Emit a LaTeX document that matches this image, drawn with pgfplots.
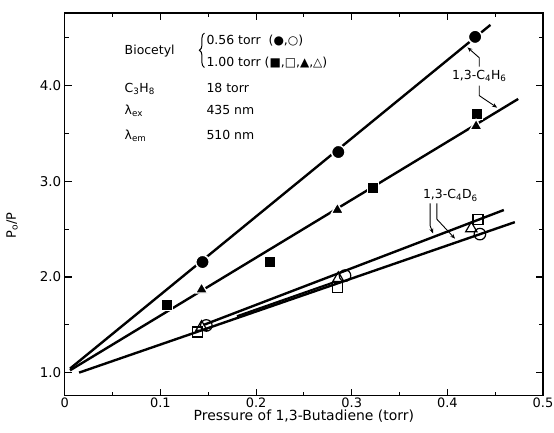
\documentclass[border=0pt]{standalone}
\usepackage{fontspec}
\setmainfont{DejaVu Sans}
\newfontfamily\sym{DejaVu Sans}
\usepackage{pgfplots}
\pgfplotsset{compat=1.18}
\usetikzlibrary{arrows.meta,decorations.pathreplacing}

\begin{document}
\begin{tikzpicture}
\begin{axis}[
    scale only axis,
    width=480pt, height=384pt,
    xmin=0, xmax=0.5,
    ymin=0.76, ymax=4.76,
    axis line style={line width=1.3pt},
    tick style={line width=1.1pt, black},
    tick align=inside,
    major tick length=7pt,
    minor tick length=4pt,
    xtick={0,0.1,0.2,0.3,0.4,0.5},
    xticklabels={0,0.1,0.2,0.3,0.4,0.5},
    minor xtick={0.05,0.15,0.25,0.35,0.45},
    ytick={1,2,3,4},
    minor ytick={1.5,2.5,3.5,4.5},
    yticklabel style={font=\fontsize{13.5}{15}\selectfont,
      /pgf/number format/.cd, fixed, fixed zerofill, precision=1},
    /pgf/number format/assume math mode=true,
    xticklabel style={font=\fontsize{13}{15}\selectfont, yshift=1pt},
    xlabel={Pressure of 1,3-Butadiene (torr)},
    xlabel style={font=\fontsize{14}{16}\selectfont, yshift=5pt},
    ylabel={P\textsubscript{o}/P},
    ylabel style={font=\fontsize{13}{15}\selectfont, anchor=center, at={(axis description cs:-0.11,0.445)}},
    clip=false,
]
% fitted lines
\addplot[line width=2.4pt] coordinates {(0.0055,1.042) (0.445,4.635)};
\addplot[line width=2.4pt] coordinates {(0.0055,1.024) (0.474,3.861)};
\addplot[line width=2.4pt] coordinates {(0.015,1.00) (0.4705,2.573)};
\addplot[line width=2.4pt] coordinates {(0.145,1.498) (0.459,2.70)};
\addplot[line width=2.0pt] coordinates {(0.18,1.59) (0.28,1.94)};

% 1.00 torr, filled squares
\addplot[only marks, mark=square*, mark size=5.6pt,
  mark options={fill=black, draw=white, line width=1.2pt}] coordinates {
  (0.107,1.708) (0.215,2.153) (0.322,2.934) (0.431,3.708)};
% 1.00 torr, filled triangles
\addplot[only marks, mark=triangle*, mark size=7pt,
  mark options={fill=black, draw=white, line width=1.2pt}] coordinates {
  (0.143,1.868) (0.285,2.70) (0.430,3.576)};
% 0.56 torr, filled circles
\addplot[only marks, mark=*, mark size=6.8pt,
  mark options={fill=black, draw=white, line width=1.5pt}] coordinates {
  (0.144,2.156) (0.286,3.306) (0.429,4.51)};
% open squares
\addplot[only marks, mark=square, mark size=5pt,
  mark options={fill=white, draw=black, line width=1.2pt}] coordinates {
  (0.139,1.424) (0.285,1.892) (0.432,2.604)};
% open circles
\addplot[only marks, mark=o, mark size=5.8pt,
  mark options={fill=white, draw=black, line width=1.2pt}] coordinates {
  (0.148,1.493) (0.293,2.014) (0.434,2.448)};
% open triangles
\addplot[only marks, mark=triangle, mark size=6.5pt,
  mark options={fill=white, draw=black, line width=1.2pt}] coordinates {
  (0.143,1.476) (0.286,1.986) (0.425,2.507)};

% conditions
\begin{scope}[font=\fontsize{12.5}{14}\selectfont, every node/.style={inner sep=0pt, anchor=base west}]
\node at (axis cs:0.0625,4.323) {Biocetyl};
\node at (axis cs:0.148,4.427) {0.56 torr \ ({\sym\large ●},{\sym\large ○})};
\node at (axis cs:0.148,4.198) {1.00 torr ({\sym\large ■},{\sym\large □},{\sym\large ▲},{\sym\large △})};
\node at (axis cs:0.0625,3.927) {C\textsubscript{3}H\textsubscript{8}};
\node at (axis cs:0.148,3.927) {18 torr};
\node at (axis cs:0.0625,3.698) {λ\textsubscript{ex}};
\node at (axis cs:0.148,3.698) {435 nm};
\node at (axis cs:0.0625,3.4375) {λ\textsubscript{em}};
\node at (axis cs:0.148,3.4375) {510 nm};
\end{scope}
\draw[line width=1pt, decorate, decoration={brace, amplitude=5pt}]
  (axis cs:0.146,4.19) -- (axis cs:0.146,4.55);

\begin{scope}[font=\fontsize{12.5}{14}\selectfont]
\node at (axis cs:0.4333,4.104) {1,3-C\textsubscript{4}H\textsubscript{6}};
\node at (axis cs:0.4031,2.854) {1,3-C\textsubscript{4}D\textsubscript{6}};
\end{scope}

\draw[line width=0.9pt, -{Stealth[length=5pt,width=4pt]}]
  (axis cs:0.4333,4.198) -- (axis cs:0.4333,4.292) -- (axis cs:0.421,4.40);
\draw[line width=0.9pt, -{Stealth[length=5pt,width=4pt]}]
  (axis cs:0.4333,4.0) -- (axis cs:0.4333,3.896) -- (axis cs:0.452,3.77);
\draw[line width=0.9pt, -{Stealth[length=5pt,width=4pt]}]
  (axis cs:0.382,2.77) -- (axis cs:0.382,2.535) -- (axis cs:0.385,2.455);
\draw[line width=0.9pt, -{Stealth[length=5pt,width=4pt]}]
  (axis cs:0.389,2.77) -- (axis cs:0.389,2.604) -- (axis cs:0.408,2.40);
\end{axis}
\pgfresetboundingbox
\path ([shift={(-65pt,-37pt)}]current axis.south west) rectangle ([shift={(11pt,13pt)}]current axis.north east);
\end{tikzpicture}
\end{document}
